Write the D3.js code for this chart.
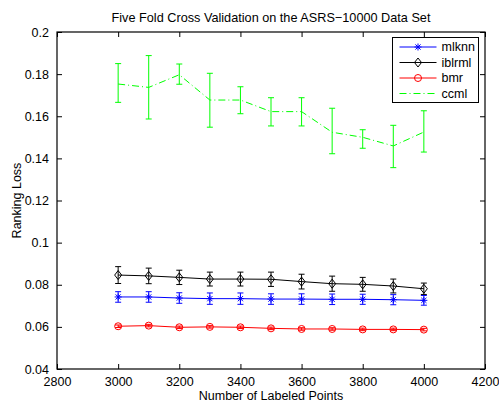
<!DOCTYPE html>
<style>
body { margin: 0; background: #fff; }
text { font-family: "Liberation Sans", Arial, sans-serif; }
</style>
<svg width="499" height="402"></svg>
<script src="https://d3js.org/d3.v7.min.js"></script>
<script>

// data
var points = [3000, 3100, 3200, 3300, 3400, 3500, 3600, 3700, 3800, 3900, 4000];
var mlknn     = [0.0742, 0.0742, 0.0737, 0.0734, 0.0734, 0.0732, 0.0732, 0.0731, 0.0731, 0.0729, 0.0726];
var mlknnErr  = [0.0025, 0.0025, 0.0025, 0.0027, 0.0027, 0.0025, 0.0025, 0.0025, 0.0024, 0.0024, 0.0023];
var iblrml    = [0.0846, 0.0842, 0.0835, 0.0827, 0.0827, 0.0826, 0.0815, 0.0805, 0.0802, 0.0794, 0.0781];
var iblrmlErr = [0.0040, 0.0037, 0.0034, 0.0033, 0.0033, 0.0034, 0.0035, 0.0036, 0.0033, 0.0033, 0.0027];
var bmr       = [0.0603, 0.0606, 0.0598, 0.0600, 0.0598, 0.0593, 0.0590, 0.0590, 0.0588, 0.0588, 0.0587];
var bmrErr    = [0.0006, 0.0006, 0.0006, 0.0006, 0.0006, 0.0006, 0.0006, 0.0006, 0.0006, 0.0006, 0.0006];
var ccml      = [0.1753, 0.1737, 0.1797, 0.1677, 0.1677, 0.1622, 0.1622, 0.1524, 0.1500, 0.1459, 0.1525];
var ccmlLo    = [0.1666, 0.1587, 0.1752, 0.1548, 0.1612, 0.1554, 0.1554, 0.1422, 0.1448, 0.1356, 0.1430];
var ccmlHi    = [0.1850, 0.1888, 0.1848, 0.1804, 0.1740, 0.1688, 0.1688, 0.1638, 0.1536, 0.1557, 0.1626];
var xTicks = [2800, 3000, 3200, 3400, 3600, 3800, 4000, 4200];
var yTicks = [0.04, 0.06, 0.08, 0.1, 0.12, 0.14, 0.16, 0.18, 0.2];

var svg = d3.select("svg"),
    margin = {top: 32, right: 14, bottom: 33, left: 57},
    width = +svg.attr("width") - margin.left - margin.right,
    height = +svg.attr("height") - margin.top - margin.bottom,
    g = svg.append("g").attr("transform", "translate(" + margin.left + "," + margin.top + ")");

var x = d3.scaleLinear().domain([2800, 4200]).range([0, width]);
var y = d3.scaleLinear().domain([0.04, 0.2]).range([height, 0]);

function band(vals, lo, hi) {
  return points.map(function(p, i) { return {x: p, v: vals[i], lo: lo[i], hi: hi[i]}; });
}
function sym(vals, err) {
  return band(vals, vals.map(function(v, i) { return v - err[i]; }), vals.map(function(v, i) { return v + err[i]; }));
}

var series = [
  {name: "mlknn", color: "#0000ff", marker: "star", dash: null, data: sym(mlknn, mlknnErr)},
  {name: "iblrml", color: "#000000", marker: "diamond", dash: null, data: sym(iblrml, iblrmlErr)},
  {name: "bmr", color: "#ff0000", marker: "circle", dash: null, data: sym(bmr, bmrErr)},
  {name: "ccml", color: "#00ff00", marker: null, dash: "7,3,1,3", data: band(ccml, ccmlLo, ccmlHi)}
];

// axes, ticks pointing inward on all four sides
g.append("g")
    .attr("transform", "translate(0," + height + ")")
    .call(d3.axisBottom(x).tickValues(xTicks).tickFormat(d3.format("d")).tickSizeInner(-5).tickSizeOuter(0).tickPadding(8));
g.append("g")
    .call(d3.axisTop(x).tickValues(xTicks).tickFormat("").tickSizeInner(-5).tickSizeOuter(0));
g.append("g")
    .call(d3.axisLeft(y).tickValues(yTicks).tickFormat(d3.format("")).tickSizeInner(-5).tickSizeOuter(0).tickPadding(8));
g.append("g")
    .attr("transform", "translate(" + width + ",0)")
    .call(d3.axisRight(y).tickValues(yTicks).tickFormat("").tickSizeInner(-5).tickSizeOuter(0));

g.selectAll(".domain").remove();
g.selectAll(".tick line").attr("stroke", "#000");
g.selectAll(".tick text").attr("font-size", 12.5).attr("fill", "#000")
    .attr("font-family", "'Liberation Sans', Arial, sans-serif");

g.append("rect")
    .attr("width", width)
    .attr("height", height)
    .attr("fill", "none")
    .attr("stroke", "#000")
    .attr("stroke-width", 1.2);

var line = d3.line()
    .x(function(d) { return x(d.x); })
    .y(function(d) { return y(d.v); });

var s = g.selectAll(".series")
  .data(series)
  .enter().append("g")
    .attr("class", "series")
    .attr("stroke", function(d) { return d.color; })
    .attr("fill", "none");

s.append("path")
    .attr("d", function(d) { return line(d.data); })
    .attr("stroke-dasharray", function(d) { return d.dash; });

var eb = s.selectAll(".eb")
  .data(function(d) { return d.data; })
  .enter().append("g")
    .attr("class", "eb");
eb.append("line")
    .attr("x1", function(d) { return x(d.x); })
    .attr("x2", function(d) { return x(d.x); })
    .attr("y1", function(d) { return y(d.lo); })
    .attr("y2", function(d) { return y(d.hi); });
eb.append("line")
    .attr("x1", function(d) { return x(d.x) - 3; })
    .attr("x2", function(d) { return x(d.x) + 3; })
    .attr("y1", function(d) { return y(d.lo); })
    .attr("y2", function(d) { return y(d.lo); });
eb.append("line")
    .attr("x1", function(d) { return x(d.x) - 3; })
    .attr("x2", function(d) { return x(d.x) + 3; })
    .attr("y1", function(d) { return y(d.hi); })
    .attr("y2", function(d) { return y(d.hi); });

function drawMarker(sel, type) {
  if (type === "circle") {
    sel.append("circle").attr("r", 3.5);
  } else if (type === "diamond") {
    sel.append("path").attr("d", "M0,-4.5L3.5,0L0,4.5L-3.5,0Z");
  } else if (type === "star") {
    sel.append("path").attr("d", "M-3.5,0H3.5M0,-3.5V3.5M-2.6,-2.6L2.6,2.6M-2.6,2.6L2.6,-2.6");
  }
}

s.each(function(d) {
  if (!d.marker) return;
  d3.select(this).selectAll(".mk")
    .data(d.data)
    .enter().append("g")
      .attr("class", "mk")
      .attr("transform", function(p) { return "translate(" + x(p.x) + "," + y(p.v) + ")"; })
      .each(function() { drawMarker(d3.select(this), d.marker); });
});

// legend
var legend = g.append("g")
    .attr("transform", "translate(" + (392.5 - margin.left) + "," + (37.5 - margin.top) + ")");
legend.append("rect")
    .attr("width", 86)
    .attr("height", 65)
    .attr("fill", "#fff")
    .attr("stroke", "#000");
var item = legend.selectAll(".item")
  .data(series)
  .enter().append("g")
    .attr("class", "item")
    .attr("transform", function(d, i) { return "translate(0," + (9.5 + i * 15.5) + ")"; });
item.append("line")
    .attr("x1", 7)
    .attr("x2", 44)
    .attr("stroke", function(d) { return d.color; })
    .attr("stroke-dasharray", function(d) { return d.dash; });
item.append("g")
    .attr("transform", "translate(25.5,0)")
    .attr("stroke", function(d) { return d.color; })
    .attr("fill", "none")
    .each(function(d) { drawMarker(d3.select(this), d.marker); });
item.append("text")
    .attr("x", 49)
    .attr("dy", "0.35em")
    .attr("font-size", 12.5)
    .text(function(d) { return d.name; });

// titles
svg.append("text")
    .attr("x", margin.left + width / 2)
    .attr("y", 22)
    .attr("text-anchor", "middle")
    .attr("font-size", 12.7)
    .text("Five Fold Cross Validation on the ASRS\u221210000 Data Set");
svg.append("text")
    .attr("x", margin.left + width / 2)
    .attr("y", 400)
    .attr("text-anchor", "middle")
    .attr("font-size", 12.5)
    .text("Number of Labeled Points");
svg.append("text")
    .attr("transform", "translate(21," + (margin.top + height / 2) + ") rotate(-90)")
    .attr("text-anchor", "middle")
    .attr("font-size", 12.5)
    .text("Ranking Loss");

</script>
